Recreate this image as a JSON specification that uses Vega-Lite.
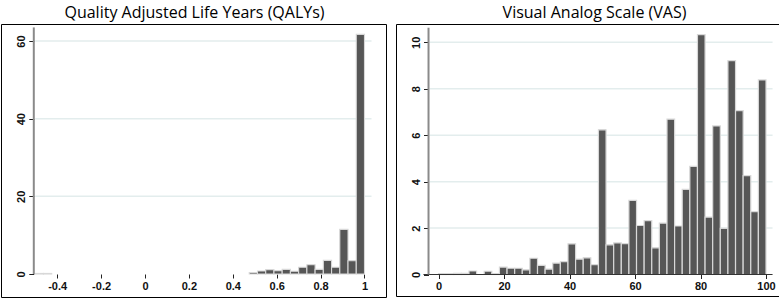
{
  "$schema": "https://vega.github.io/schema/vega-lite/v6.json",
  "background": "white",
  "padding": {"left": 0, "top": 4, "right": 0, "bottom": 0},
  "spacing": 8,
  "config": {
    "view": {"stroke": "black", "strokeWidth": 1},
    "font": "Liberation Sans",
    "title": {"font": "Open Sans", "fontSize": 16, "fontWeight": "normal", "color": "black", "anchor": "middle", "offset": 3},
    "axis": {"domain": false, "grid": false, "tickColor": "#222", "tickWidth": 1, "labelFont": "Liberation Sans", "labelFontSize": 11, "labelFontWeight": "bold", "labelColor": "#111", "title": null}
  },
  "datasets": {
    "qaly": [
      {"start": -0.5, "end": -0.4625, "pct": 0.15},
      {"start": -0.4625, "end": -0.425, "pct": 0.15},
      {"start": 0.475, "end": 0.5125, "pct": 0.4},
      {"start": 0.5125, "end": 0.55, "pct": 0.77},
      {"start": 0.55, "end": 0.5875, "pct": 1.12},
      {"start": 0.5875, "end": 0.625, "pct": 0.87},
      {"start": 0.625, "end": 0.6625, "pct": 1.2},
      {"start": 0.6625, "end": 0.7, "pct": 0.7},
      {"start": 0.7, "end": 0.7375, "pct": 1.73},
      {"start": 0.7375, "end": 0.775, "pct": 2.4},
      {"start": 0.775, "end": 0.8125, "pct": 1.2},
      {"start": 0.8125, "end": 0.85, "pct": 3.52},
      {"start": 0.85, "end": 0.8875, "pct": 1.73},
      {"start": 0.8875, "end": 0.925, "pct": 11.5},
      {"start": 0.925, "end": 0.9625, "pct": 3.43},
      {"start": 0.9625, "end": 1.0, "pct": 61.7}
    ],
    "qalyGrid": [{"y": 20}, {"y": 40}, {"y": 60}],
    "vas": [
      {"start": 0, "end": 2.326, "pct": 0.04},
      {"start": 2.326, "end": 4.651, "pct": 0.04},
      {"start": 4.651, "end": 6.977, "pct": 0.05},
      {"start": 6.977, "end": 9.302, "pct": 0.05},
      {"start": 9.302, "end": 11.628, "pct": 0.15},
      {"start": 11.628, "end": 13.953, "pct": 0},
      {"start": 13.953, "end": 16.279, "pct": 0.14},
      {"start": 16.279, "end": 18.605, "pct": 0.04},
      {"start": 18.605, "end": 20.93, "pct": 0.32},
      {"start": 20.93, "end": 23.256, "pct": 0.27},
      {"start": 23.256, "end": 25.581, "pct": 0.27},
      {"start": 25.581, "end": 27.907, "pct": 0.2},
      {"start": 27.907, "end": 30.233, "pct": 0.7},
      {"start": 30.233, "end": 32.558, "pct": 0.39},
      {"start": 32.558, "end": 34.884, "pct": 0.23},
      {"start": 34.884, "end": 37.209, "pct": 0.49},
      {"start": 37.209, "end": 39.535, "pct": 0.55},
      {"start": 39.535, "end": 41.86, "pct": 1.32},
      {"start": 41.86, "end": 44.186, "pct": 0.66},
      {"start": 44.186, "end": 46.512, "pct": 0.72},
      {"start": 46.512, "end": 48.837, "pct": 0.42},
      {"start": 48.837, "end": 51.163, "pct": 6.23},
      {"start": 51.163, "end": 53.488, "pct": 1.28},
      {"start": 53.488, "end": 55.814, "pct": 1.36},
      {"start": 55.814, "end": 58.14, "pct": 1.33},
      {"start": 58.14, "end": 60.465, "pct": 3.19},
      {"start": 60.465, "end": 62.791, "pct": 2.11},
      {"start": 62.791, "end": 65.116, "pct": 2.32},
      {"start": 65.116, "end": 67.442, "pct": 1.15},
      {"start": 67.442, "end": 69.767, "pct": 2.21},
      {"start": 69.767, "end": 72.093, "pct": 6.69},
      {"start": 72.093, "end": 74.419, "pct": 2.09},
      {"start": 74.419, "end": 76.744, "pct": 3.67},
      {"start": 76.744, "end": 79.07, "pct": 4.66},
      {"start": 79.07, "end": 81.395, "pct": 10.33},
      {"start": 81.395, "end": 83.721, "pct": 2.47},
      {"start": 83.721, "end": 86.047, "pct": 6.4},
      {"start": 86.047, "end": 88.372, "pct": 1.99},
      {"start": 88.372, "end": 90.698, "pct": 9.21},
      {"start": 90.698, "end": 93.023, "pct": 7.06},
      {"start": 93.023, "end": 95.349, "pct": 4.26},
      {"start": 95.349, "end": 97.674, "pct": 2.71},
      {"start": 97.674, "end": 100, "pct": 8.38}
    ],
    "vasGrid": [{"y": 2}, {"y": 4}, {"y": 6}, {"y": 8}, {"y": 10}]
  },
  "hconcat": [
    {
      "width": 385,
      "height": 273,
      "title": {"text": "Quality Adjusted Life Years (QALYs)", "dx": 1},
      "layer": [
        {
          "data": {"name": "qalyGrid"},
          "mark": {"type": "rule", "color": "#e3eded", "strokeWidth": 1.5},
          "encoding": {
            "y": {"field": "y", "type": "quantitative", "title": null},
            "x": {"datum": -0.5, "type": "quantitative"},
            "x2": {"datum": 1.032}
          }
        },
        {
          "data": {"name": "qaly"},
          "mark": {"type": "rect", "fill": "#565656", "stroke": "#d8d8d8", "strokeWidth": 1.1},
          "encoding": {
            "x": {"field": "start", "type": "quantitative", "title": null,
                  "scale": {"domain": [-0.656, 1.098], "nice": false, "zero": false},
                  "axis": {"values": [-0.4, -0.2, 0, 0.2, 0.4, 0.6, 0.8, 1], "offset": -23, "tickSize": 4, "labelPadding": 2, "labelExpr": "'' + datum.value"}},
            "x2": {"field": "end"},
            "y": {"field": "pct", "type": "quantitative", "title": null,
                  "scale": {"domain": [-5.92, 64.38], "nice": false, "zero": false},
                  "axis": {"values": [0, 20, 40, 60], "offset": -32.8, "tickSize": 5, "labelPadding": 2, "labelAngle": 270, "labelAlign": "center", "labelBaseline": "bottom"}},
            "y2": {"datum": 0}
          }
        },
        {
          "data": {"values": [{}]},
          "mark": {"type": "rule", "color": "#8a8a8a", "strokeWidth": 2},
          "encoding": {
            "x": {"datum": -0.5066, "type": "quantitative"},
            "y": {"datum": 0, "type": "quantitative"},
            "y2": {"datum": 63.5}
          }
        }
      ]
    },
    {
      "width": 385,
      "height": 272,
      "title": {"text": "Visual Analog Scale (VAS)", "dx": 6},
      "layer": [
        {
          "data": {"name": "vasGrid"},
          "mark": {"type": "rule", "color": "#e3eded", "strokeWidth": 1.5},
          "encoding": {
            "y": {"field": "y", "type": "quantitative", "title": null},
            "x": {"datum": -2.7, "type": "quantitative"},
            "x2": {"datum": 102}
          }
        },
        {
          "data": {"name": "vas"},
          "mark": {"type": "rect", "fill": "#565656", "stroke": "#d8d8d8", "strokeWidth": 1.2},
          "encoding": {
            "x": {"field": "start", "type": "quantitative", "title": null,
                  "scale": {"domain": [-12.98, 104.58], "nice": false, "zero": false},
                  "axis": {"values": [0, 20, 40, 60, 80, 100], "offset": -21.5, "tickSize": 4, "labelPadding": 2, "labelExpr": "'' + datum.value"}},
            "x2": {"field": "end"},
            "y": {"field": "pct", "type": "quantitative", "title": null,
                  "scale": {"domain": [-0.926, 10.79], "nice": false, "zero": false},
                  "axis": {"values": [0, 2, 4, 6, 8, 10], "offset": -32.5, "tickSize": 5, "labelPadding": 2, "labelAngle": 270, "labelAlign": "center", "labelBaseline": "bottom"}},
            "y2": {"datum": 0}
          }
        },
        {
          "data": {"values": [{}]},
          "mark": {"type": "rule", "color": "#333333", "strokeWidth": 1.2},
          "encoding": {
            "x": {"datum": -4.6, "type": "quantitative"},
            "x2": {"datum": 102},
            "y": {"datum": 0, "type": "quantitative"}
          }
        },
        {
          "data": {"values": [{}]},
          "mark": {"type": "rule", "color": "#8a8a8a", "strokeWidth": 2},
          "encoding": {
            "x": {"datum": -3.05, "type": "quantitative"},
            "y": {"datum": 0, "type": "quantitative"},
            "y2": {"datum": 10.63}
          }
        }
      ]
    }
  ]
}
